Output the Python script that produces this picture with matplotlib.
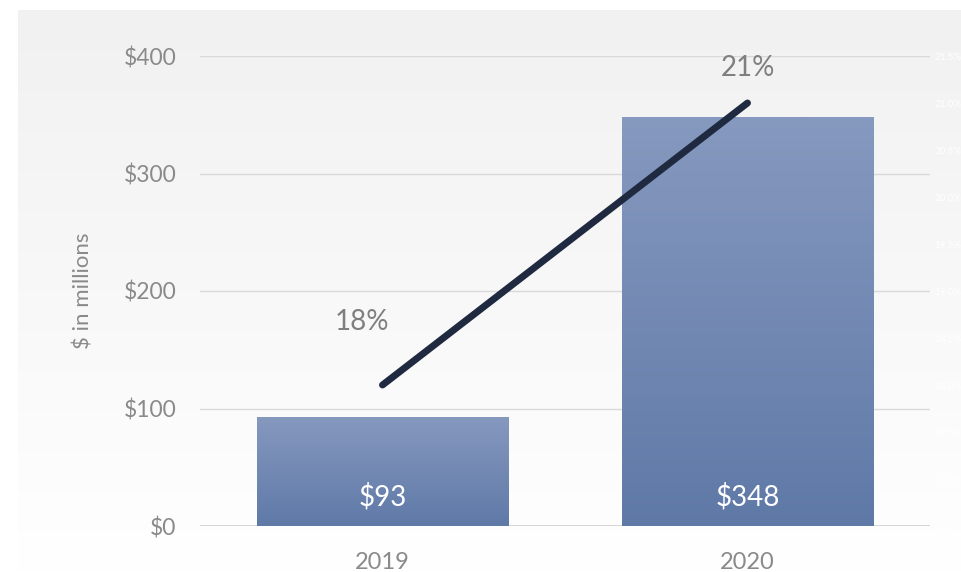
import numpy as np
import matplotlib
matplotlib.use("Agg")
import matplotlib.pyplot as plt
from matplotlib.colors import LinearSegmentedColormap

plt.rcParams['font.family'] = ['Lato', 'DejaVu Sans']

categories = ["2019", "2020"]
revenue = [93, 348]
margin_pct = [18, 21]
y_ticks = [0, 100, 200, 300, 400]
y_tick_labels = ["$0", "$100", "$200", "$300", "$400"]
pct_ticks = [16.5, 17.0, 17.5, 18.0, 18.5, 19.0, 19.5, 20.0, 20.5, 21.0, 21.5]

W, H = 962, 572
fig = plt.figure(figsize=(W / 100, H / 100), dpi=100)
fig.patch.set_facecolor("white")

# background panel with vertical gradient
bg = fig.add_axes([18 / W, 0, 1 - 18 / W, 1 - 10 / H])
bg.set_axis_off()
grad = np.linspace(0, 1, 256).reshape(-1, 1)
bg_cmap = LinearSegmentedColormap.from_list("bg", ["#f1f1f1", "#ffffff"])
bg.imshow(grad, aspect="auto", cmap=bg_cmap, extent=[0, 1, 0, 1], origin="upper")
bg.set_xlim(0, 1)
bg.set_ylim(0, 1)

ax = fig.add_axes([200 / W, 1 - 526 / H, (930 - 200) / W, (526 - 56) / H])
ax.patch.set_alpha(0)
x = np.arange(len(categories))
bars = ax.bar(x, revenue, width=0.69, color="none", zorder=2)
bar_cmap = LinearSegmentedColormap.from_list("bar", ["#8699bf", "#5f79a7"])
for b in bars:
    x0, y0 = b.get_x(), b.get_y()
    w, h = b.get_width(), b.get_height()
    im = ax.imshow(grad, aspect="auto", cmap=bar_cmap, extent=[x0, x0 + w, y0, y0 + h],
                   origin="upper", zorder=2)
    im.set_clip_path(b)
    ax.text(x0 + w / 2, 25, f"${int(h)}", ha="center", va="center", color="white",
            fontsize=20, zorder=4)

ax.set_xlim(-0.5, 1.5)
ax.set_ylim(0, 400)
ax.set_aspect("auto")
ax.set_yticks(y_ticks)
ax.set_yticklabels(y_tick_labels)
ax.set_xticks(x)
ax.set_xticklabels(categories)
ax.tick_params(axis="both", length=0, colors="#8a8a8a", labelsize=17)
ax.tick_params(axis="y", pad=17, labelsize=16.5)
ax.tick_params(axis="x", pad=19)
for s in ax.spines.values():
    s.set_visible(False)
ax.grid(axis="y", color="#d9d9d9", linewidth=1, zorder=0)
ax.set_axisbelow(True)
ax.axhline(0, color="#d0d0d0", linewidth=1.2, zorder=1)
ax.set_ylabel("$ in millions", color="#8a8a8a", fontsize=16, labelpad=22)

ax2 = ax.twinx()
ax2.set_ylim(16.5, 21.5)
ax2.set_yticks(pct_ticks)
ax2.set_yticklabels([f"{t:.1f}%" for t in pct_ticks])
ax2.tick_params(axis="y", length=0, colors="#ffffff", labelsize=7, pad=3)
for s in ax2.spines.values():
    s.set_visible(False)
ax2.plot(x, margin_pct, color="#1f2940", linewidth=5, solid_capstyle="round", zorder=5)
ax2.annotate(f"{margin_pct[0]}%", (x[0], margin_pct[0]), xytext=(-21, 63),
             textcoords="offset pixels", ha="center", va="center", color="#7f7f7f", fontsize=20)
ax2.annotate(f"{margin_pct[1]}%", (x[1], margin_pct[1]), xytext=(0, 35),
             textcoords="offset pixels", ha="center", va="center", color="#7f7f7f", fontsize=20)

fig.savefig("out.png", dpi=100)
